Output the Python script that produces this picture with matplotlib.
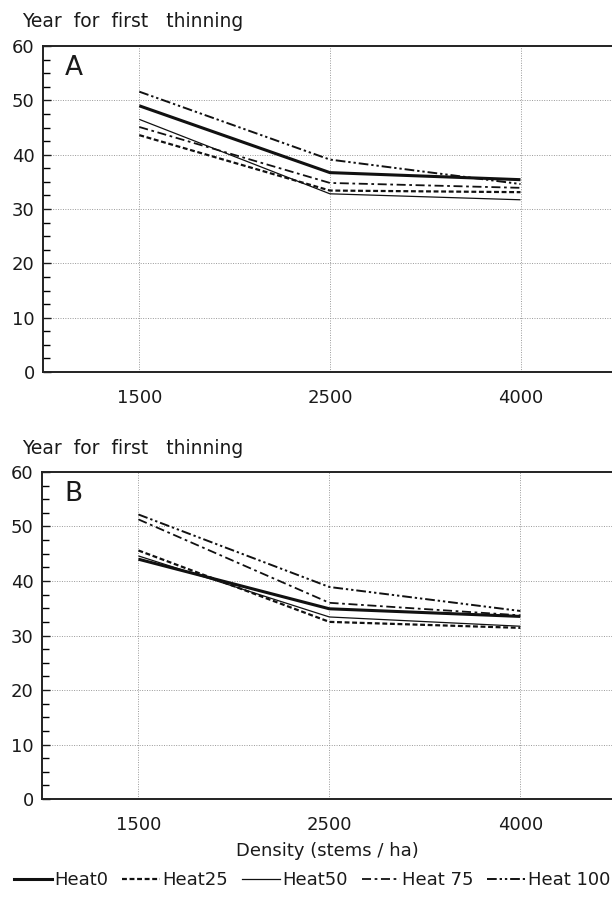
import numpy as np
import matplotlib
matplotlib.use('Agg')
import matplotlib.pyplot as plt
from matplotlib.ticker import MultipleLocator

plt.rcParams['font.family'] = ['DejaVu Sans']

# planting densities (stems/ha), plotted as evenly spaced categories
densities = ['1500', '2500', '4000']
series = ['Heat0', 'Heat25', 'Heat50', 'Heat 75', 'Heat 100']

# year for first thinning, panel A
year_a = {
    'Heat0':    [49.0, 36.7, 35.4],
    'Heat25':   [43.6, 33.4, 33.1],
    'Heat50':   [46.5, 32.8, 31.7],
    'Heat 75':  [45.1, 34.8, 33.9],
    'Heat 100': [51.6, 39.1, 34.6],
}
# year for first thinning, panel B
year_b = {
    'Heat0':    [44.0, 34.9, 33.5],
    'Heat25':   [45.6, 32.5, 31.4],
    'Heat50':   [44.6, 33.4, 31.7],
    'Heat 75':  [51.3, 36.0, 33.7],
    'Heat 100': [52.2, 38.9, 34.5],
}

styles = {
    'Heat0':    dict(lw=2.2, ls='-'),
    'Heat25':   dict(lw=1.6, ls=(0, (2.2, 1.2))),
    'Heat50':   dict(lw=0.9, ls='-'),
    'Heat 75':  dict(lw=1.3, ls=(0, (5, 2, 1.5, 2))),
    'Heat 100': dict(lw=1.4, ls=(0, (5, 1.5, 1.2, 1.5, 1.2, 1.5))),
}

fig = plt.figure(figsize=(6.12, 8.99), dpi=100)
ax_a = fig.add_axes([0.0703, 0.5862, 0.9297, 0.3626])
ax_b = fig.add_axes([0.0686, 0.1112, 0.9314, 0.3638])

x = np.arange(len(densities))
txt = '#1a1a1a'

for ax, data, tag in [(ax_a, year_a, 'A'), (ax_b, year_b, 'B')]:
    for name in series:
        ax.plot(x, data[name], color='#111111', solid_capstyle='butt',
                dash_capstyle='butt', **styles[name])
    ax.set_xlim(-0.505, 2.48)
    ax.set_ylim(0, 60)
    ax.set_xticks(x)
    ax.set_xticklabels(densities)
    ax.yaxis.set_major_locator(MultipleLocator(10))
    ax.yaxis.set_minor_locator(MultipleLocator(2.5))
    ax.tick_params(axis='y', which='major', direction='in', length=6,
                   width=1.0, labelsize=13, colors=txt, pad=6)
    ax.tick_params(axis='y', which='minor', direction='in', length=5,
                   width=1.0)
    ax.tick_params(axis='x', length=0, labelsize=13, colors=txt, pad=12)
    for v in range(10, 60, 10):
        ax.axhline(v, color='#999999', lw=0.7, ls=(0, (1, 1.5)), zorder=0)
    for xv in x:
        ax.axvline(xv, color='#999999', lw=0.7, ls=(0, (1, 1.5)), zorder=0)
    ax.spines['right'].set_visible(False)
    for s in ['left', 'top', 'bottom']:
        ax.spines[s].set_linewidth(1.4)
        ax.spines[s].set_color('#222222')
    ax.text(-0.39, 56, tag, fontsize=19, color=txt, ha='left', va='center')

# y-axis captions above each panel
for ypos in [0.976, 0.501]:
    fig.text(22 / 612, ypos, 'Year  for  first   thinning', fontsize=13.5,
             color=txt, ha='left', va='center')

ax_b.set_xlabel('Density (stems / ha)', fontsize=13, color=txt, labelpad=6)

# legend row under both panels
handles = [plt.Line2D([], [], color='#111111', **styles[n]) for n in series]
fig.legend(handles, series, loc='center', bbox_to_anchor=(0.51, 0.021),
           ncol=5, frameon=False, fontsize=13, handlelength=2.1,
           handletextpad=0.15, columnspacing=0.75, labelcolor=txt)

plt.savefig('out.png', dpi=100)
